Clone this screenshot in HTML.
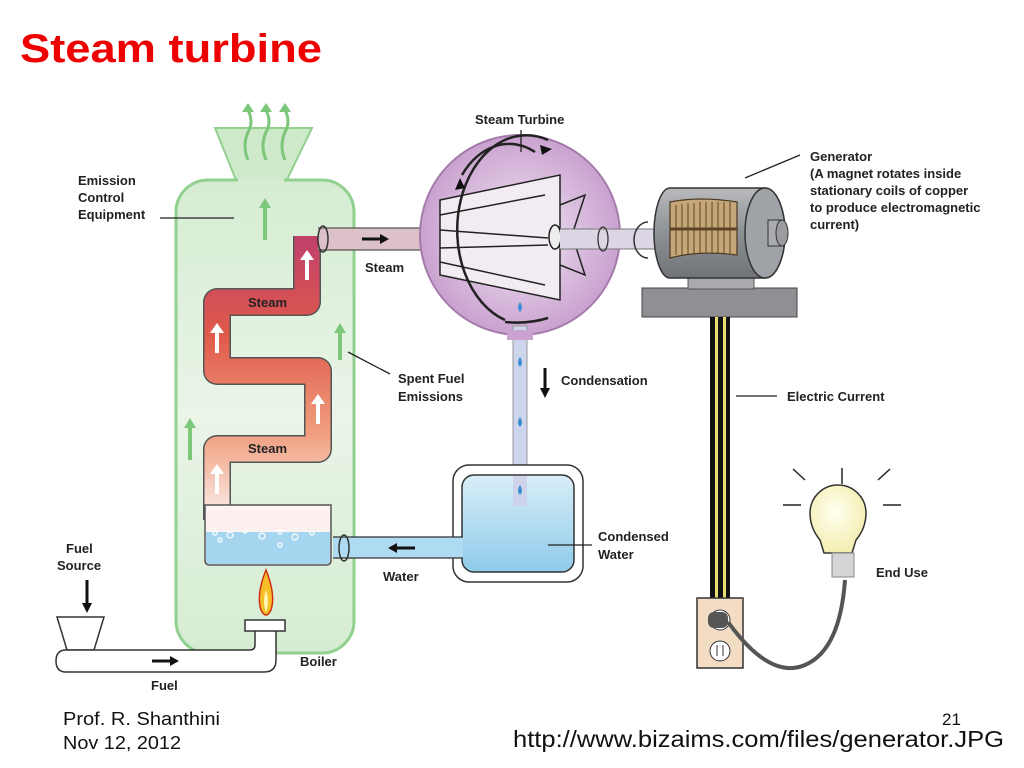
<!DOCTYPE html>
<html><head><meta charset="utf-8"><style>
html,body{margin:0;padding:0;background:#fff;width:1024px;height:768px;overflow:hidden}
svg{display:block}
text{font-family:"Liberation Sans",sans-serif}
.l{font-size:13px;font-weight:bold;fill:#222}
</style></head><body>
<svg width="1024" height="768" viewBox="0 0 1024 768" xmlns="http://www.w3.org/2000/svg">
<defs>
<linearGradient id="gb" x1="0" y1="0" x2="0" y2="1"><stop offset="0" stop-color="#d5ecd2"/><stop offset="0.5" stop-color="#eaf5e8"/><stop offset="1" stop-color="#d5ecd2"/></linearGradient>
<linearGradient id="st" x1="0" y1="0" x2="0" y2="1"><stop offset="0" stop-color="#c0406a"/><stop offset="0.35" stop-color="#e05a4a"/><stop offset="0.7" stop-color="#f0a080"/><stop offset="1" stop-color="#fbf0ee"/></linearGradient>
<radialGradient id="tb" cx="0.5" cy="0.5" r="0.5"><stop offset="0" stop-color="#f3e8f4"/><stop offset="1" stop-color="#c9a2cf"/></radialGradient>
<linearGradient id="wt" x1="0" y1="0" x2="0" y2="1"><stop offset="0" stop-color="#d8eef8"/><stop offset="1" stop-color="#8fcbea"/></linearGradient>
<linearGradient id="gen" x1="0" y1="0" x2="0" y2="1"><stop offset="0" stop-color="#b8babd"/><stop offset="0.5" stop-color="#8d9094"/><stop offset="1" stop-color="#707377"/></linearGradient>
<radialGradient id="bulb" cx="0.45" cy="0.4" r="0.6"><stop offset="0" stop-color="#fffff0"/><stop offset="1" stop-color="#f3eeb0"/></radialGradient>
</defs>

<text x="20" y="62" font-size="40" font-weight="bold" fill="#ee0000" textLength="302" lengthAdjust="spacingAndGlyphs">Steam turbine</text>

<!-- chimney -->
<path d="M215,128 L312,128 L282,190 L240,190 Z" fill="#cfe9cb" stroke="#92d08f" stroke-width="2"/>
<!-- boiler -->
<rect x="176" y="180" width="178" height="473" rx="32" fill="url(#gb)" stroke="#92d08f" stroke-width="3"/>
<rect x="238" y="178" width="46" height="14" fill="#d5ecd2"/>
<!-- smoke -->
<g stroke="#7cc77a" stroke-width="3" fill="none">
<path d="M248,160 q-6,-14 0,-28 q6,-10 0,-22"/><path d="M266,160 q-6,-14 0,-28 q6,-10 0,-22"/><path d="M285,160 q-6,-14 0,-28 q6,-10 0,-22"/>
</g>
<g fill="#7cc77a"><path d="M242,112 l6,-9 l6,9z"/><path d="M260,112 l6,-9 l6,9z"/><path d="M279,112 l6,-9 l6,9z"/></g>
<g stroke="#7cc77a" stroke-width="4"><line x1="265" y1="240" x2="265" y2="205"/><line x1="340" y1="360" x2="340" y2="330"/><line x1="190" y1="460" x2="190" y2="425"/></g>
<g fill="#7cc77a"><path d="M259,208 l6,-10 l6,10z"/><path d="M334,333 l6,-10 l6,10z"/><path d="M184,428 l6,-10 l6,10z"/></g>
<line x1="160" y1="218" x2="234" y2="218" stroke="#222" stroke-width="1.3"/>

<!-- serpentine steam pipe -->
<path d="M307,236 L307,302 L217,302 L217,371 L318,371 L318,449 L217,449 L217,520" fill="none" stroke="#555" stroke-width="28" stroke-linejoin="round"/>
<path d="M307,236 L307,302 L217,302 L217,371 L318,371 L318,449 L217,449 L217,520" fill="none" stroke="url(#st)" stroke-width="25" stroke-linejoin="round"/>
<!-- water box -->
<path d="M205,505 L331,505 L331,560 Q331,565 326,565 L210,565 Q205,565 205,560Z" fill="#fbf4f2" stroke="#555" stroke-width="1.5"/>
<path d="M206,532 L330,532 L330,560 Q330,564 326,564 L210,564 Q206,564 206,560Z" fill="#a6d6ef"/>
<g fill="none" stroke="#fff" stroke-width="1.2"><circle cx="215" cy="533" r="2"/><circle cx="230" cy="535" r="3"/><circle cx="245" cy="531" r="2"/><circle cx="262" cy="536" r="3"/><circle cx="280" cy="532" r="2"/><circle cx="295" cy="537" r="3"/><circle cx="312" cy="533" r="2"/><circle cx="220" cy="540" r="2"/><circle cx="280" cy="545" r="2"/></g>
<rect x="206" y="510" width="124" height="20" fill="#fbf0ee"/>
<g fill="#fff"><rect x="305" y="258" width="4" height="22"/><path d="M300,260 l7,-10 l7,10z"/><rect x="215" y="331" width="4" height="22"/><path d="M210,333 l7,-10 l7,10z"/><rect x="316" y="402" width="4" height="22"/><path d="M311,404 l7,-10 l7,10z"/><rect x="215" y="472" width="4" height="22"/><path d="M210,474 l7,-10 l7,10z"/></g>
<text x="248" y="307" class="l" fill="#333">Steam</text>
<text x="248" y="453" class="l" fill="#333">Steam</text>

<!-- steam pipe to turbine -->
<rect x="318" y="228" width="118" height="22" fill="#dcc2c8"/>
<line x1="318" y1="228" x2="436" y2="228" stroke="#555" stroke-width="1.3"/><line x1="318" y1="250" x2="436" y2="250" stroke="#555" stroke-width="1.3"/>
<ellipse cx="323" cy="239" rx="5" ry="13" fill="none" stroke="#333" stroke-width="1.5"/>
<path d="M362,239 h20" stroke="#111" stroke-width="3"/><path d="M380,234 l9,5 l-9,5z" fill="#111"/>
<text x="365" y="272" class="l">Steam</text>

<!-- turbine -->
<circle cx="520" cy="235" r="100" fill="url(#tb)" stroke="#a57bab" stroke-width="2"/>
<rect x="513" y="326" width="14" height="180" fill="#cdd4ec" stroke="#999" stroke-width="1"/>
<rect x="507" y="330" width="26" height="10" fill="#c9a2cf"/>
<g fill="none" stroke="#222" stroke-width="1.5">
<path d="M440,200 L560,175 L560,300 L440,275 Z" fill="#f2ecf2"/>
<path d="M440,215 L545,195 M440,230 L548,238 M440,248 L548,245 M440,262 L545,285"/>
<path d="M560,205 L585,195 L572,235 L585,275 L560,265"/>
<ellipse cx="555" cy="237" rx="6" ry="12" fill="#eee"/>
<path d="M505,320 A60,82 0 1 1 548,140" stroke-width="2.5"/>
<path d="M462,175 A60,82 0 0 1 535,152" stroke-width="2.5"/>
<path d="M548,318 A60,30 0 0 1 505,322" stroke-width="2.5"/>
</g>
<path d="M540,145 l12,4 l-10,6z M455,190 l5,-12 l5,10z" fill="#111"/>
<rect x="560" y="229" width="95" height="20" fill="#dcd6e4"/>
<line x1="560" y1="229" x2="655" y2="229" stroke="#777"/><line x1="560" y1="249" x2="655" y2="249" stroke="#777"/>
<ellipse cx="603" cy="239" rx="5" ry="12" fill="none" stroke="#333" stroke-width="1.3"/>
<path d="M648,222 A14,18 0 1 0 648,258" fill="none" stroke="#333" stroke-width="1.5"/>
<text x="475" y="124" class="l">Steam Turbine</text>
<line x1="521" y1="130" x2="521" y2="152" stroke="#222" stroke-width="1.3"/>
<g fill="#3d8fd4"><path d="M520,302 q-4,6 0,10 q4,-4 0,-10z"/><path d="M520,357 q-4,6 0,10 q4,-4 0,-10z"/><path d="M520,417 q-4,6 0,10 q4,-4 0,-10z"/><path d="M520,485 q-4,6 0,10 q4,-4 0,-10z"/></g>
<path d="M545,368 v22" stroke="#111" stroke-width="3"/><path d="M540,388 l5,10 l5,-10z" fill="#111"/>
<text x="561" y="385" class="l">Condensation</text>
<line x1="348" y1="352" x2="390" y2="374" stroke="#222" stroke-width="1.3"/>
<text x="398" y="383" class="l">Spent Fuel</text>
<text x="398" y="401" class="l">Emissions</text>

<!-- condenser -->
<rect x="453" y="465" width="130" height="117" rx="16" fill="#fff" stroke="#333" stroke-width="1.5"/>
<rect x="462" y="475" width="112" height="97" rx="12" fill="url(#wt)" stroke="#333" stroke-width="1.5"/>
<rect x="513" y="476" width="14" height="30" fill="#cdd4ec"/>
<path d="M520,485 q-4,6 0,10 q4,-4 0,-10z" fill="#3d8fd4"/>
<rect x="333" y="537" width="130" height="21" fill="#aedbf1"/>
<line x1="333" y1="537" x2="463" y2="537" stroke="#333" stroke-width="1.3"/><line x1="333" y1="558" x2="463" y2="558" stroke="#333" stroke-width="1.3"/>
<ellipse cx="344" cy="548" rx="5" ry="13" fill="none" stroke="#333" stroke-width="1.5"/>
<path d="M395,548 h20" stroke="#111" stroke-width="3"/><path d="M397,543 l-9,5 l9,5z" fill="#111"/>
<text x="383" y="581" class="l">Water</text>
<line x1="548" y1="545" x2="592" y2="545" stroke="#222" stroke-width="1.3"/>
<text x="598" y="541" class="l">Condensed</text>
<text x="598" y="559" class="l">Water</text>

<!-- fuel -->
<text x="66" y="553" class="l">Fuel</text>
<text x="57" y="570" class="l">Source</text>
<path d="M87,580 v25" stroke="#111" stroke-width="3"/><path d="M82,603 l5,10 l5,-10z" fill="#111"/>
<path d="M57,617 L104,617 L94,650 L67,650Z" fill="#fff" stroke="#333" stroke-width="1.5"/>
<path d="M66,650 L250,650 Q255,650 255,645 L255,630 L276,630 L276,660 Q276,672 264,672 L66,672 Q56,672 56,661 Q56,650 66,650Z" fill="#fff" stroke="#333" stroke-width="1.5"/>
<rect x="245" y="620" width="40" height="11" fill="#fff" stroke="#333" stroke-width="1.5"/>
<path d="M266,570 Q256,595 261,610 Q266,620 271,610 Q276,595 266,570Z" fill="#f7c02a" stroke="#d03010" stroke-width="1.5"/>
<path d="M266,590 Q262,602 266,612 Q270,602 266,590Z" fill="#fff6b0"/>
<path d="M152,661 h20" stroke="#111" stroke-width="3"/><path d="M170,656 l9,5 l-9,5z" fill="#111"/>
<text x="151" y="690" class="l">Fuel</text>
<text x="300" y="666" class="l">Boiler</text>

<!-- generator -->
<rect x="642" y="288" width="155" height="29" fill="#8e9094" stroke="#444" stroke-width="1"/>
<rect x="688" y="278" width="66" height="11" fill="#a8aaad" stroke="#555"/>
<path d="M670,188 L765,188 A20,45 0 0 1 765,278 L670,278 A16,45 0 0 1 670,188Z" fill="url(#gen)" stroke="#333" stroke-width="1.5"/>
<ellipse cx="765" cy="233" rx="20" ry="45" fill="#9fa2a6" stroke="#333" stroke-width="1.5"/>
<rect x="768" y="220" width="14" height="26" fill="#a9abaf" stroke="#333"/>
<ellipse cx="782" cy="233" rx="6" ry="13" fill="#9a9ca0" stroke="#333"/>
<path d="M670,202 Q700,196 737,202 L737,255 Q700,250 670,258Z" fill="#c7a77a" stroke="#4a3a20" stroke-width="1.2"/>
<g stroke="#5a4423" stroke-width="1">
<line x1="676" y1="205" x2="676" y2="255"/><line x1="682" y1="204" x2="682" y2="255"/><line x1="688" y1="203" x2="688" y2="254"/><line x1="694" y1="203" x2="694" y2="254"/><line x1="700" y1="202" x2="700" y2="253"/><line x1="706" y1="202" x2="706" y2="253"/><line x1="712" y1="202" x2="712" y2="253"/><line x1="718" y1="202" x2="718" y2="253"/><line x1="724" y1="202" x2="724" y2="254"/><line x1="730" y1="202" x2="730" y2="254"/>
<line x1="670" y1="229" x2="737" y2="229" stroke-width="3"/></g>
<line x1="745" y1="178" x2="800" y2="155" stroke="#222" stroke-width="1.3"/>
<text x="810" y="161" class="l">Generator</text><text x="810" y="178" class="l">(A magnet rotates inside</text><text x="810" y="195" class="l">stationary coils of copper</text><text x="810" y="212" class="l">to produce electromagnetic</text><text x="810" y="229" class="l">current)</text>

<!-- wires -->
<g><rect x="710" y="317" width="5" height="282" fill="#111"/><rect x="715" y="317" width="3" height="282" fill="#e8e070"/><rect x="718" y="317" width="5" height="282" fill="#111"/><rect x="723" y="317" width="3" height="282" fill="#e8e070"/><rect x="726" y="317" width="4" height="282" fill="#111"/></g>
<line x1="736" y1="396" x2="777" y2="396" stroke="#222" stroke-width="1.3"/>
<text x="787" y="401" class="l">Electric Current</text>
<!-- outlet -->
<rect x="697" y="598" width="46" height="70" fill="#f3dcc4" stroke="#333" stroke-width="1.5"/>
<circle cx="720" cy="620" r="10" fill="#fff" stroke="#333"/>
<rect x="708" y="612" width="20" height="16" rx="6" fill="#555"/>
<circle cx="720" cy="651" r="10" fill="#fff" stroke="#333"/>
<line x1="717" y1="645" x2="717" y2="656" stroke="#333"/><line x1="723" y1="645" x2="723" y2="656" stroke="#333"/>
<path d="M728,622 Q770,680 805,665 Q840,650 845,580" fill="none" stroke="#555" stroke-width="4"/>
<!-- bulb -->
<path d="M820,540 Q810,528 810,513 A28,28 0 1 1 866,513 Q866,528 856,540 L852,553 L824,553Z" fill="url(#bulb)" stroke="#333" stroke-width="1.5"/>
<rect x="832" y="553" width="22" height="24" fill="#d5d5d5" stroke="#888"/>
<g stroke="#222" stroke-width="1.5"><line x1="842" y1="468" x2="842" y2="484"/><line x1="793" y1="469" x2="805" y2="480"/><line x1="890" y1="469" x2="878" y2="480"/><line x1="783" y1="505" x2="801" y2="505"/><line x1="883" y1="505" x2="901" y2="505"/></g>
<text x="876" y="577" class="l">End Use</text>

<text x="78" y="185" class="l">Emission</text>
<text x="78" y="202" class="l">Control</text>
<text x="78" y="219" class="l">Equipment</text>

<text x="63" y="725" font-size="18" fill="#111" textLength="157" lengthAdjust="spacingAndGlyphs">Prof. R. Shanthini</text>
<text x="63" y="749" font-size="18" fill="#111" textLength="118" lengthAdjust="spacingAndGlyphs">Nov 12, 2012</text>
<text x="942" y="725" font-size="17" fill="#111">21</text>
<text x="513" y="747" font-size="23" fill="#111" textLength="491" lengthAdjust="spacingAndGlyphs">http://www.bizaims.com/files/generator.JPG</text>
</svg>
</body></html>
